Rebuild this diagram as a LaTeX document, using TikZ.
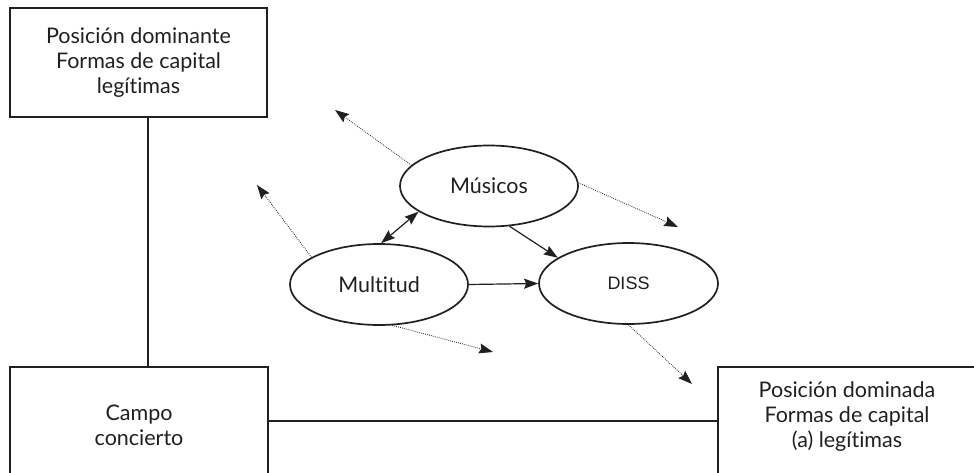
\documentclass[tikz,border=0pt]{standalone}
\usepackage{fontspec}
\setmainfont[Ligatures=NoCommon]{Lato}
\newfontfamily\dissfont{Liberation Sans}
\usetikzlibrary{shapes.geometric,arrows.meta}
\definecolor{ink}{HTML}{231F20}
\tikzset{
  boxnode/.style={draw=ink,line width=1.7pt,rectangle,inner sep=0pt,align=center,text=ink,
    font=\fontsize{21.5}{25}\selectfont},
  ellnode/.style={draw=ink,line width=1.7pt,ellipse,inner sep=0pt,text=ink,
    minimum width=178pt,minimum height=81pt,font=\fontsize{21.5}{25}\selectfont},
  link/.style={draw=ink,line width=2.6pt},
  solidarrow/.style={draw=ink,line width=1.2pt,-{Stealth[length=14pt,width=10pt,inset=2pt]}},
  botharrow/.style={draw=ink,line width=1.2pt,{Stealth[length=14pt,width=10pt,inset=2pt]}-{Stealth[length=14pt,width=10pt,inset=2pt]}},
  dotarrow/.style={draw=ink,line width=0.8pt,dash pattern=on 0.8pt off 1.2pt,-{Stealth[length=14pt,width=10pt,inset=2pt]}}
}
\begin{document}
\begin{tikzpicture}[x=1pt,y=-1pt]
\clip (0,0) rectangle (974,473);
\fill[white] (0,0) rectangle (974,473);
% boxes
\node[boxnode,minimum width=257pt,minimum height=109pt] (tl) at (138.5,62.5)
  {Posición dominante\\Formas de capital\\legítimas};
\node[boxnode,minimum width=258pt,minimum height=116pt] (bl) at (139,425)
  {Campo\\concierto};
\node[boxnode,minimum width=258pt,minimum height=116pt] (br) at (847,425) {};
\node[align=center,text=ink,font=\fontsize{21.5}{25}\selectfont] (brt) at (847,417)
  {Posición dominada\\Formas de capital\\(a) legítimas};
% box links
\draw[link] ([xshift=9.5pt]tl.south) -- ([xshift=9.5pt]tl.south |- bl.north);
\draw[link] ([yshift=4pt]bl.east) -- ([yshift=4pt]bl.east -| br.west);
% ellipses
\node[ellnode] (mus) at (489,186) {Músicos};
\node[ellnode] (mult) at (379,284.5) {Multitud};
\node[ellnode,minimum width=179pt,font=\dissfont\fontsize{18}{20}\selectfont] (diss) at (628.5,283.5) {DISS};
% solid arrows
\draw[botharrow] (mult.87) -- (mus.200);
\draw[solidarrow] (mus.-63) -- (diss.160);
\draw[solidarrow] (mult.east) -- (diss.west);
% dotted arrows
\coordinate (c1) at (335,110);
\coordinate (c2) at (257,185);
\coordinate (c3) at (678,227);
\coordinate (c4) at (493,352);
\coordinate (c5) at (692,384);
\draw[dotarrow] (mus.165) -- (c1);
\draw[dotarrow] (mult.158) -- (c2);
\draw[dotarrow] (mus.2) -- (c3);
\draw[dotarrow] (mult.-72) -- (c4);
\draw[dotarrow] (diss.south) -- (c5);
\end{tikzpicture}
\end{document}
